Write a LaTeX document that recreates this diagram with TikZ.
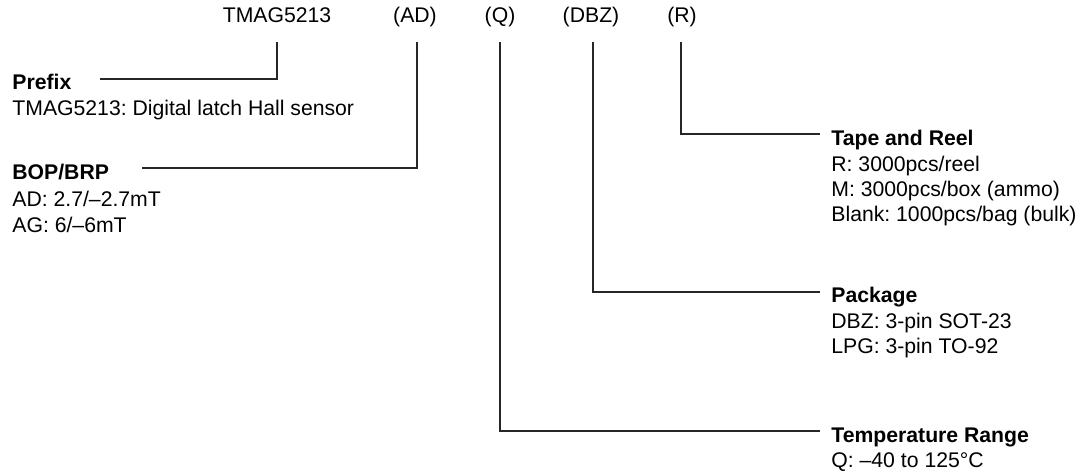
\documentclass[tikz,border=0pt]{standalone}
\usepackage{fontspec}
\setmainfont{Liberation Sans}
\frenchspacing
\begin{document}
\begin{tikzpicture}[x=0.5pt,y=-0.5pt,
  txt/.style={inner sep=0pt,anchor=base west,font=\fontsize{10.6}{12.5}\selectfont},
  ttl/.style={txt,font=\fontsize{10.6}{12.5}\selectfont\bfseries},
  code/.style={inner sep=0pt,anchor=base,font=\fontsize{10.6}{12.5}\selectfont},
  conn/.style={draw=black!85,line width=0.65pt}]
\useasboundingbox (0,0) rectangle (1081,471);
% top code labels
\node[code] (t1) at (277,22) {TMAG5213};
\node[code] (t2) at (415,22) {(AD)};
\node[code] (t3) at (500,22) {(Q)};
\node[code] (t4) at (591,22) {(DBZ)};
\node[code] (t5) at (682,22) {(R)};
\coordinate (top) at (0,42);
% left blocks
\node[ttl] (prefix) at (12,89) {Prefix};
\node[txt] (prefixd) at (12,115) {TMAG5213: Digital latch Hall sensor};
\node[ttl] (bop) at (12,179) {BOP/BRP};
\node[txt] (bopa) at (12,206) {AD: 2.7/–2.7mT};
\node[txt] (bopb) at (12,232) {AG: 6/–6mT};
% right blocks
\node[ttl] (tape) at (831,145) {Tape and Reel};
\node[txt] (tapea) at (831,171) {R: 3000pcs/reel};
\node[txt] (tapeb) at (831,196) {M: 3000pcs/box (ammo)};
\node[txt] (tapec) at (831,221) {Blank: 1000pcs/bag (bulk)};
\node[ttl] (pkg) at (831,302) {Package};
\node[txt] (pkga) at (831,328) {DBZ: 3-pin SOT-23};
\node[txt] (pkgb) at (831,353) {LPG: 3-pin TO-92};
\node[ttl] (temp) at (831,442) {Temperature Range};
\node[txt] (tempa) at (831,467) {Q: –40 to 125°C};
% line ends on the left
\coordinate (pfxend) at (100,79);
\coordinate (bopend) at (142,168);
% connectors
\draw[conn] (t1.south |- top) |- (pfxend);
\draw[conn] ([xshift=1pt]t2.south |- top) |- (bopend);
\draw[conn] (t3.south |- top) |- ([shift={(-5.5pt,5.5pt)}]temp.base west);
\draw[conn] ([xshift=1pt]t4.south |- top) |- ([shift={(-5.5pt,5pt)}]pkg.base west);
\draw[conn] ([xshift=-0.5pt]t5.south |- top) |- ([shift={(-5.5pt,5.5pt)}]tape.base west);
\end{tikzpicture}
\end{document}
